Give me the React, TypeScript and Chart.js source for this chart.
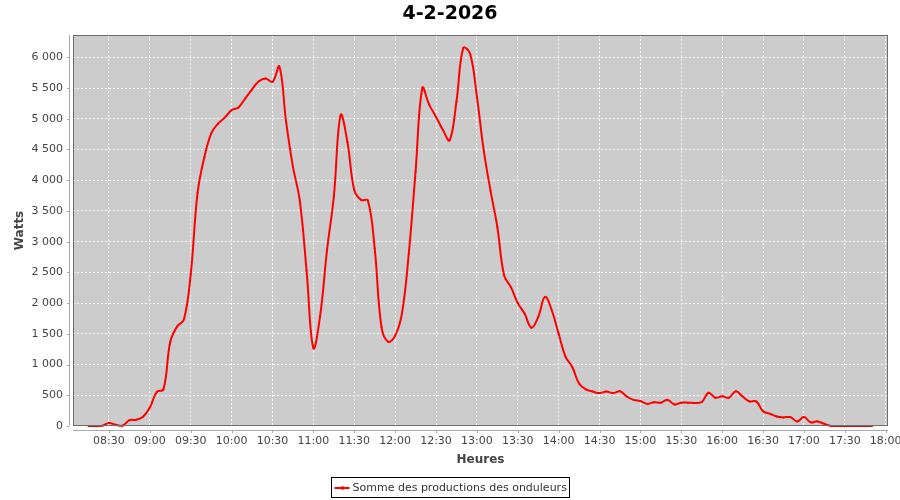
import React, { useEffect, useRef } from "react";
import { Chart, registerables } from "chart.js";

Chart.register(...registerables);

const chartTitle = "4-2-2026";
const yAxisTitle = "Watts";
const xAxisTitle = "Heures";
const seriesName = "Somme des productions des onduleurs";

const times = [
  "08:15", "08:20", "08:25", "08:30", "08:35", "08:40", "08:45", "08:50", "08:55",
  "09:00", "09:05", "09:10", "09:15", "09:20", "09:25", "09:30", "09:35", "09:40", "09:45", "09:50", "09:55",
  "10:00", "10:05", "10:10", "10:15", "10:20", "10:25", "10:30", "10:35", "10:40", "10:45", "10:50", "10:55",
  "11:00", "11:05", "11:10", "11:15", "11:20", "11:25", "11:30", "11:35", "11:40", "11:45", "11:50", "11:55",
  "12:00", "12:05", "12:10", "12:15", "12:20", "12:25", "12:30", "12:35", "12:40", "12:45", "12:50", "12:55",
  "13:00", "13:05", "13:10", "13:15", "13:20", "13:25", "13:30", "13:35", "13:40", "13:45", "13:50", "13:55",
  "14:00", "14:05", "14:10", "14:15", "14:20", "14:25", "14:30", "14:35", "14:40", "14:45", "14:50", "14:55",
  "15:00", "15:05", "15:10", "15:15", "15:20", "15:25", "15:30", "15:35", "15:40", "15:45", "15:50", "15:55",
  "16:00", "16:05", "16:10", "16:15", "16:20", "16:25", "16:30", "16:35", "16:40", "16:45", "16:50", "16:55",
  "17:00", "17:05", "17:10", "17:15", "17:20", "17:25", "17:30", "17:35", "17:40", "17:45", "17:50",
];

const watts = [
  0, 0, 5, 50, 20, 5, 95, 100, 150,
  300, 550, 600, 1370, 1620, 1735, 2470, 3790, 4375, 4760, 4920, 5020,
  5140, 5185, 5330, 5480, 5610, 5655, 5600, 5850, 4950, 4220, 3670, 2530,
  1270, 1800, 2860, 3730, 5060, 4620, 3840, 3680, 3670, 2890, 1610, 1370,
  1470, 1830, 2800, 4140, 5500, 5230, 5030, 4820, 4650, 5280, 6150, 6060,
  5360, 4490, 3830, 3240, 2450, 2260, 2000, 1830, 1600, 1775, 2100, 1880,
  1500, 1130, 960, 690, 595, 560, 535, 560, 535, 565, 480, 425,
  405, 360, 385, 380, 425, 350, 380, 380, 375, 390, 540, 460,
  485, 460, 565, 480, 400, 400, 240, 200, 155, 140, 145, 75,
  145, 60, 75, 35, 0, 0, 0, 0, 0, 0, 0,
];

const xTickLabels = [
  "08:30", "09:00", "09:30", "10:00", "10:30", "11:00", "11:30", "12:00", "12:30", "13:00",
  "13:30", "14:00", "14:30", "15:00", "15:30", "16:00", "16:30", "17:00", "17:30", "18:00",
];
const yTickValues = [0, 500, 1000, 1500, 2000, 2500, 3000, 3500, 4000, 4500, 5000, 5500, 6000];

const xRangeStart = "08:03.6";
const xRangeEnd = "18:01.7";
const yRangeMax = 6363;

const FONT = '"DejaVu Sans", sans-serif';

function toMinutes(s: string): number {
  const [h, m] = s.split(":");
  return parseInt(h, 10) * 60 + parseFloat(m);
}

function fmtTime(v: number): string {
  const h = Math.floor(v / 60);
  const m = Math.round(v - h * 60);
  return String(h).padStart(2, "0") + ":" + String(m).padStart(2, "0");
}

function fmtWatts(v: number): string {
  if (v >= 1000) {
    return Math.floor(v / 1000) + "\u00a0" + String(v % 1000).padStart(3, "0");
  }
  return String(v);
}

const decorPlugin = {
  id: "decor",
  beforeDraw(chart: any) {
    const { ctx, chartArea } = chart;
    ctx.save();
    ctx.fillStyle = "#ffffff";
    ctx.fillRect(0, 0, chart.width, chart.height);
    ctx.fillStyle = "#cccccc";
    ctx.fillRect(chartArea.left, chartArea.top, chartArea.right - chartArea.left, chartArea.bottom - chartArea.top);
    ctx.restore();
  },
  afterDraw(chart: any) {
    const { ctx, chartArea } = chart;
    const { left, right, top, bottom } = chartArea;
    const xs = chart.scales.x;
    const ys = chart.scales.y;
    ctx.save();
    // plot outline
    ctx.strokeStyle = "#6e6e6e";
    ctx.lineWidth = 1;
    ctx.strokeRect(left + 0.5, top + 0.5, right - left - 1, bottom - top - 1);
    // axis lines (offset)
    ctx.strokeStyle = "#a8a8a8";
    ctx.beginPath();
    ctx.moveTo(left - 3.5, top);
    ctx.lineTo(left - 3.5, bottom);
    ctx.moveTo(left, bottom + 4.5);
    ctx.lineTo(right, bottom + 4.5);
    // tick marks
    for (const t of xs.ticks) {
      const px = Math.round(xs.getPixelForValue(t.value)) + 0.5;
      ctx.moveTo(px, bottom + 4);
      ctx.lineTo(px, bottom + 7);
    }
    for (const t of ys.ticks) {
      const py = Math.round(ys.getPixelForValue(t.value)) + 0.5;
      ctx.moveTo(left - 4, py);
      ctx.lineTo(left - 6, py);
    }
    ctx.stroke();

    // title
    ctx.fillStyle = "#000000";
    ctx.font = "bold 19px " + FONT;
    ctx.textAlign = "center";
    ctx.textBaseline = "middle";
    ctx.fillText(chartTitle, 450, 14);

    // axis titles
    ctx.fillStyle = "#444444";
    ctx.font = "bold 12px " + FONT;
    ctx.fillText(xAxisTitle, (left + right) / 2, 460);
    ctx.save();
    ctx.translate(20, (top + bottom) / 2);
    ctx.rotate(-Math.PI / 2);
    ctx.fillText(yAxisTitle, 0, 0);
    ctx.restore();

    // legend
    ctx.font = "11px " + FONT;
    const tw = ctx.measureText(seriesName).width;
    const boxW = Math.round(tw + 24);
    const boxX = Math.round(450 - boxW / 2) + 0.5;
    const boxY = 477.5;
    ctx.strokeStyle = "#000000";
    ctx.lineWidth = 1;
    ctx.strokeRect(boxX, boxY, boxW, 20);
    ctx.strokeStyle = "#ff0000";
    ctx.lineWidth = 2;
    ctx.beginPath();
    ctx.moveTo(boxX + 3, 488);
    ctx.lineTo(boxX + 18, 488);
    ctx.stroke();
    ctx.fillStyle = "#ff0000";
    ctx.fillRect(boxX + 9.5, 486.5, 3, 3);
    ctx.fillStyle = "#333333";
    ctx.textAlign = "left";
    ctx.fillText(seriesName, boxX + 21, 488.5);
    ctx.restore();
  },
};

export default function App() {
  const ref = useRef<HTMLCanvasElement>(null);
  useEffect(() => {
    if (!ref.current) return;
    Chart.defaults.font.family = FONT;
    const points = times.map((t, i) => ({ x: toMinutes(t), y: watts[i] }));
    const chart = new Chart(ref.current, {
      type: "line",
      data: {
        datasets: [
          {
            label: seriesName,
            data: points,
            borderColor: "#ff0000",
            backgroundColor: "#ff0000",
            borderWidth: 2,
            pointRadius: 1,
            pointBorderWidth: 0,
            pointBackgroundColor: "#ff0000",
            tension: 0.4,
            fill: false,
            clip: 3,
          },
        ],
      },
      options: {
        animation: false,
        responsive: false,
        devicePixelRatio: 1,
        events: [],
        layout: { padding: { top: 35, right: 12, bottom: 44, left: 0 } },
        plugins: {
          legend: { display: false },
          title: { display: false },
          tooltip: { enabled: false },
        },
        scales: {
          x: {
            type: "linear",
            bounds: "data",
            min: toMinutes(xRangeStart),
            max: toMinutes(xRangeEnd),
            afterBuildTicks: (scale: any) => {
              scale.ticks = xTickLabels.map((l) => ({ value: toMinutes(l) }));
            },
            afterFit: (scale: any) => {
              scale.height = 30;
              scale.paddingLeft = 0;
              scale.paddingRight = 0;
            },
            ticks: {
              autoSkip: false,
              maxRotation: 0,
              minRotation: 0,
              padding: 9,
              color: "#444444",
              font: { size: 11, family: FONT },
              callback: (v: any) => fmtTime(Number(v)),
            },
            grid: { color: "#ffffff", drawTicks: false, lineWidth: 1 },
            border: { display: false, dash: [2, 2] },
          },
          y: {
            type: "linear",
            bounds: "data",
            min: 0,
            max: yRangeMax,
            afterBuildTicks: (scale: any) => {
              scale.ticks = yTickValues.map((v) => ({ value: v }));
            },
            afterFit: (scale: any) => {
              scale.width = 73;
              scale.paddingTop = 0;
              scale.paddingBottom = 0;
            },
            ticks: {
              padding: 10,
              color: "#444444",
              font: { size: 11, family: FONT },
              callback: (v: any) => fmtWatts(Number(v)),
            },
            grid: { color: "#ffffff", drawTicks: false, lineWidth: 1 },
            border: { display: false, dash: [2, 2] },
          },
        },
      },
      plugins: [decorPlugin],
    });
    return () => chart.destroy();
  }, []);
  return (
    <div style={{ position: "fixed", left: 0, top: 0, width: 900, height: 500, background: "#ffffff" }}>
      <canvas ref={ref} width={900} height={500} style={{ display: "block", width: 900, height: 500 }} />
    </div>
  );
}
